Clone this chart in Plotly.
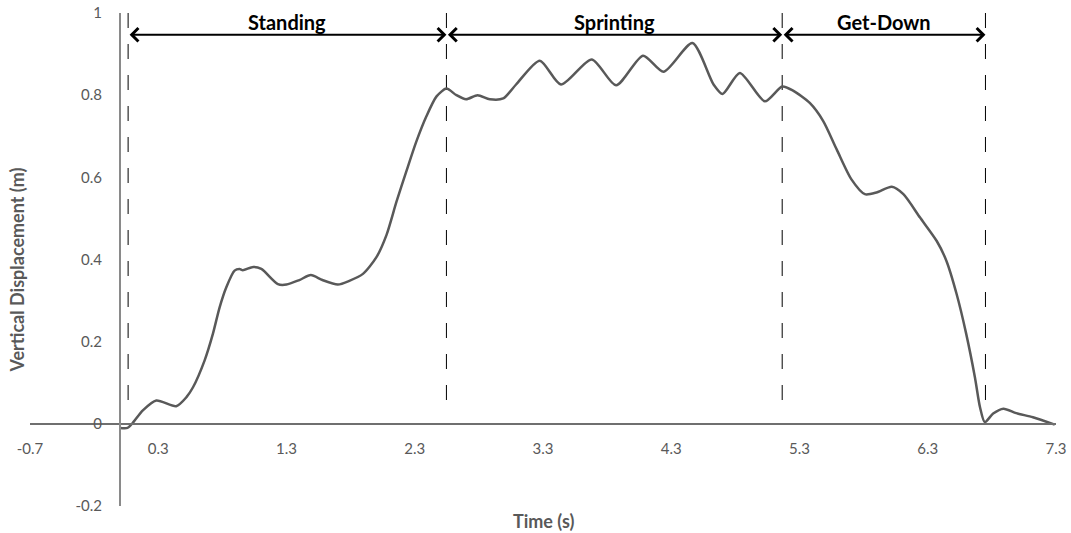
import plotly.graph_objects as go

# Curve: time (s) and vertical displacement (m)
time_s = [0.0, 0.06, 0.10, 0.18, 0.285, 0.44, 0.52, 0.571, 0.661, 0.726, 0.778, 0.83, 0.895, 0.934,
          0.96, 1.04, 1.104, 1.233, 1.30, 1.40, 1.49, 1.58, 1.70, 1.79, 1.896, 2.0, 2.08, 2.157,
          2.235, 2.31, 2.39, 2.47, 2.547, 2.625, 2.70, 2.79, 2.885, 2.99, 3.09, 3.275, 3.44, 3.68,
          3.87, 4.08, 4.24, 4.465, 4.63, 4.70, 4.835, 5.03, 5.165, 5.25, 5.38, 5.485, 5.59, 5.705,
          5.81, 5.90, 6.02, 6.11, 6.24, 6.37, 6.445, 6.525, 6.60, 6.668, 6.707, 6.745, 6.81, 6.89,
          6.99, 7.12, 7.29]
displacement_m = [-0.01, -0.01, 0.002, 0.033, 0.057, 0.043, 0.065, 0.089, 0.154, 0.219, 0.283,
                  0.332, 0.373, 0.377, 0.374, 0.382, 0.377, 0.340, 0.339, 0.35, 0.362, 0.35, 0.339,
                  0.348, 0.365, 0.405, 0.46, 0.54, 0.615, 0.685, 0.748, 0.797, 0.816, 0.80, 0.79,
                  0.80, 0.79, 0.792, 0.826, 0.884, 0.826, 0.887, 0.824, 0.896, 0.857, 0.927, 0.826,
                  0.803, 0.854, 0.785, 0.821, 0.811, 0.781, 0.737, 0.668, 0.595, 0.559, 0.563, 0.577,
                  0.559, 0.502, 0.445, 0.397, 0.316, 0.219, 0.113, 0.041, 0.004, 0.025, 0.037, 0.026,
                  0.016, -0.002]

# Phases and their boundaries (s)
phase_names = ["Standing", "Sprinting", "Get-Down"]
phase_bounds = [0.065, 2.547, 5.165, 6.75]

x_ticks = [-0.7, 0.3, 1.3, 2.3, 3.3, 4.3, 5.3, 6.3, 7.3]
x_tick_labels = ["-0.7", "0.3", "1.3", "2.3", "3.3", "4.3", "5.3", "6.3", "7.3"]
y_ticks = [-0.2, 0, 0.2, 0.4, 0.6, 0.8, 1.0]
y_tick_labels = ["-0.2", "0", "0.2", "0.4", "0.6", "0.8", "1"]

X_RANGE = [-0.7, 7.3]
Y_RANGE = [-0.2, 1.0]
ARROW_Y = 0.947
LABEL_Y = 0.977
DASH_TOP, DASH_BOTTOM = 1.0, 0.04

FONT = "Lato, 'Open Sans', sans-serif"
GRAY = "#595959"

fig = go.Figure()

# Dashed phase boundaries
for b in phase_bounds:
    fig.add_trace(go.Scatter(
        x=[b, b], y=[DASH_TOP, DASH_BOTTOM], mode="lines",
        line=dict(color="black", width=1, dash="15px,16px"),
        showlegend=False, hoverinfo="skip"))

# Displacement curve
fig.add_trace(go.Scatter(
    x=time_s, y=displacement_m, mode="lines",
    line=dict(color=GRAY, width=2.5, shape="spline", smoothing=0.7),
    showlegend=False))

# Phase arrows and labels
for name, x0, x1 in zip(phase_names, phase_bounds[:-1], phase_bounds[1:]):
    fig.add_annotation(
        x=x1, y=ARROW_Y, ax=x0, ay=ARROW_Y, xref="x", yref="y", axref="x", ayref="y",
        text="", showarrow=True, arrowside="end+start",
        arrowhead=4, startarrowhead=4, arrowsize=1.3, startarrowsize=1.3,
        arrowwidth=2, arrowcolor="black", standoff=0, startstandoff=0)
    fig.add_annotation(
        x=(x0 + x1) / 2, y=LABEL_Y, xref="x", yref="y", text=f"<b>{name}</b>",
        showarrow=False, xanchor="center", yanchor="middle",
        font=dict(family=FONT, size=20, color="black"))

# Axis titles
fig.add_annotation(
    x=0.5, y=0, xref="paper", yref="paper", yshift=-15, text="<b>Time (s)</b>", showarrow=False,
    xanchor="center", yanchor="middle", font=dict(family=FONT, size=18, color=GRAY))
fig.add_annotation(
    x=0, y=0.373, xref="paper", yref="y", xshift=-13, text="<b>Vertical Displacement (m)</b>",
    textangle=-90, showarrow=False, xanchor="center", yanchor="middle",
    font=dict(family=FONT, size=18, color=GRAY))

fig.update_layout(
    width=1071, height=533,
    margin=dict(l=30, r=15, t=13, b=27, autoexpand=False),
    paper_bgcolor="white", plot_bgcolor="white",
    font=dict(family=FONT, size=15, color=GRAY),
    xaxis=dict(range=X_RANGE, tickvals=x_ticks, ticktext=x_tick_labels, automargin=False,
               showgrid=False, zeroline=False, showline=True, linecolor="#6f6f6f", linewidth=1.5,
               anchor="free", position=(0 - Y_RANGE[0]) / (Y_RANGE[1] - Y_RANGE[0]),
               ticks="", ticklabelstandoff=11, tickfont=dict(family=FONT, size=15, color=GRAY)),
    yaxis=dict(range=Y_RANGE, tickvals=y_ticks, ticktext=y_tick_labels, automargin=False,
               showgrid=False, zeroline=False, showline=True, linecolor="#8a8a8a", linewidth=1.5,
               anchor="free", position=(0 - X_RANGE[0]) / (X_RANGE[1] - X_RANGE[0]),
               ticks="", ticklabelstandoff=14, tickfont=dict(family=FONT, size=15, color=GRAY)),
)

fig.write_html("out.html")
